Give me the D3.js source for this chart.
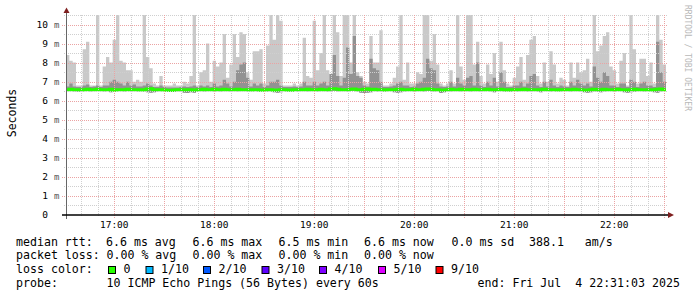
<!DOCTYPE html>
<html>
<head>
<meta charset="utf-8">
<script src="https://cdn.jsdelivr.net/npm/d3@7"></script>
<style>
body { margin: 0; background: #fff; }
svg { display: block; font-family: "DejaVu Sans Mono", monospace; }
</style>
</head>
<body>
<div id="chart"></div>
<script>
// 180 two-minute samples, 16:31:03 .. 22:31:03, values in ms
var rttMax = [
  8.4, 8.1, 8.0, 6.8, 6.8, 8.7, 9.1, 6.8, 6.8, 11,
  6.8, 7.8, 8.3, 8.0, 9.2, 11, 8.1, 8.0, 7.6, 7.6,
  7.0, 7.1, 7.0, 11, 8.3, 7.7, 6.9, 6.8, 7.3, 6.8,
  6.8, 6.8, 6.9, 6.8, 6.8, 7.0, 6.9, 7.3, 11, 6.8,
  7.5, 7.6, 9.0, 7.0, 8.1, 7.8, 8.0, 9.5, 7.2, 7.9,
  9.5, 8.3, 9.6, 9.5, 7.5, 7.1, 8.6, 8.6, 8.7, 6.9,
  8.9, 11, 9.2, 11, 10.2, 6.8, 6.8, 6.8, 6.9, 6.8,
  6.9, 9.3, 7.3, 7.2, 10.2, 7.6, 8.5, 11, 7.6, 7.0,
  11, 9.6, 7.3, 11, 11, 8.0, 11, 7.5, 7.3, 7.0,
  6.9, 9.4, 8.0, 8.0, 9.7, 6.8, 6.8, 6.9, 7.2, 7.8,
  11, 7.1, 8.0, 6.9, 6.9, 7.5, 7.4, 11, 11, 8.1,
  9.5, 7.9, 6.9, 6.8, 6.9, 7.6, 6.9, 11, 7.8, 7.1,
  11, 11, 7.9, 9.1, 7.3, 6.9, 7.9, 7.4, 8.5, 7.0,
  9.1, 7.6, 6.9, 6.8, 7.2, 7.8, 8.3, 7.1, 8.4, 9.2,
  9.4, 7.3, 6.9, 8.0, 7.0, 8.6, 7.9, 6.9, 7.2, 7.1,
  6.8, 8.0, 7.2, 8.0, 7.5, 7.6, 8.2, 7.0, 11, 8.6,
  8.9, 9.4, 9.6, 7.8, 7.6, 6.9, 8.1, 8.5, 6.8, 11,
  8.7, 6.9, 8.2, 8.2, 7.3, 8.0, 6.9, 11, 9.2, 7.9
];
var rttHigh = [
  6.75, 6.9, 6.75, 6.72, 6.72, 6.8, 6.85, 6.72, 6.75, 6.8,
  6.72, 6.8, 6.8, 7.0, 7.1, 7.0, 6.9, 6.8, 7.0, 6.8,
  6.85, 6.75, 6.75, 6.8, 6.9, 6.8, 6.72, 6.72, 6.8, 6.72,
  6.7, 6.7, 6.7, 6.7, 6.72, 6.75, 6.72, 6.75, 6.8, 6.72,
  6.8, 6.75, 6.8, 6.72, 6.9, 6.75, 6.8, 7.1, 6.9, 6.75,
  7.0, 7.6, 7.9, 8.0, 7.2, 6.75, 6.9, 6.8, 6.9, 6.72,
  6.8, 7.0, 7.0, 7.1, 6.8, 6.72, 6.72, 6.72, 6.75, 6.72,
  6.75, 7.0, 6.8, 6.8, 7.0, 6.8, 6.9, 7.0, 6.8, 7.4,
  8.4, 7.3, 6.8, 7.2, 8.8, 7.4, 9.4, 7.3, 7.2, 6.8,
  6.75, 8.2, 7.7, 7.6, 7.0, 6.72, 6.72, 6.75, 6.8, 6.9,
  7.0, 6.8, 6.8, 6.72, 6.75, 6.9, 7.0, 7.2, 8.2, 7.7,
  7.6, 6.9, 6.75, 6.72, 6.75, 7.0, 6.75, 7.2, 6.9, 6.8,
  7.2, 7.3, 6.8, 8.0, 6.8, 6.72, 7.0, 6.8, 7.2, 6.75,
  7.5, 7.0, 6.72, 6.72, 6.8, 6.8, 7.0, 6.75, 6.9, 7.3,
  7.4, 6.8, 6.72, 7.0, 6.75, 7.1, 6.8, 6.72, 6.8, 6.75,
  6.72, 7.0, 6.8, 7.1, 6.9, 6.8, 6.9, 6.75, 7.8, 7.2,
  7.0, 7.5, 7.3, 6.8, 6.8, 6.72, 6.9, 6.9, 6.72, 7.1,
  7.0, 6.72, 6.9, 7.0, 6.8, 6.8, 6.72, 9.1, 7.5, 7.0
];
var rttMin = [
  6.52, 6.52, 6.5, 6.48, 6.5, 6.52, 6.52, 6.5, 6.52, 6.52,
  6.52, 6.5, 6.52, 6.45, 6.5, 6.52, 6.52, 6.5, 6.52, 6.52,
  6.52, 6.5, 6.52, 6.5, 6.45, 6.42, 6.45, 6.5, 6.52, 6.52,
  6.5, 6.52, 6.48, 6.52, 6.5, 6.42, 6.4, 6.45, 6.42, 6.5,
  6.52, 6.5, 6.52, 6.52, 6.5, 6.52, 6.5, 6.52, 6.52, 6.5,
  6.52, 6.5, 6.52, 6.52, 6.5, 6.52, 6.52, 6.5, 6.52, 6.52,
  6.5, 6.52, 6.45, 6.42, 6.45, 6.52, 6.5, 6.52, 6.52, 6.5,
  6.52, 6.52, 6.5, 6.52, 6.52, 6.5, 6.52, 6.52, 6.5, 6.52,
  6.52, 6.5, 6.52, 6.52, 6.5, 6.52, 6.52, 6.5, 6.42, 6.4,
  6.42, 6.45, 6.52, 6.5, 6.52, 6.5, 6.52, 6.52, 6.45, 6.42,
  6.45, 6.5, 6.52, 6.52, 6.5, 6.52, 6.52, 6.5, 6.52, 6.52,
  6.5, 6.52, 6.4, 6.45, 6.52, 6.5, 6.52, 6.52, 6.5, 6.52,
  6.52, 6.5, 6.52, 6.52, 6.5, 6.52, 6.52, 6.5, 6.45, 6.52,
  6.52, 6.5, 6.52, 6.48, 6.52, 6.5, 6.52, 6.52, 6.5, 6.52,
  6.52, 6.5, 6.45, 6.52, 6.52, 6.5, 6.52, 6.52, 6.5, 6.52,
  6.52, 6.5, 6.52, 6.52, 6.5, 6.45, 6.42, 6.45, 6.5, 6.48,
  6.45, 6.5, 6.52, 6.52, 6.5, 6.52, 6.52, 6.45, 6.42, 6.45,
  6.48, 6.52, 6.52, 6.5, 6.52, 6.52, 6.45, 6.42, 6.5, 6.52
];
var rttMedian = [
  6.58, 6.6, 6.58, 6.57, 6.56, 6.58, 6.6, 6.58, 6.57, 6.6,
  6.58, 6.57, 6.58, 6.6, 6.55, 6.58, 6.57, 6.58, 6.6, 6.57,
  6.58, 6.57, 6.56, 6.58, 6.62, 6.63, 6.58, 6.57, 6.58, 6.56,
  6.55, 6.53, 6.56, 6.58, 6.57, 6.56, 6.58, 6.57, 6.55, 6.58,
  6.57, 6.6, 6.58, 6.57, 6.6, 6.58, 6.57, 6.6, 6.58, 6.57,
  6.58, 6.6, 6.58, 6.57, 6.58, 6.56, 6.58, 6.57, 6.55, 6.56,
  6.58, 6.57, 6.55, 6.56, 6.58, 6.57, 6.56, 6.55, 6.57, 6.58,
  6.57, 6.58, 6.6, 6.58, 6.57, 6.58, 6.6, 6.58, 6.57, 6.62,
  6.63, 6.6, 6.58, 6.57, 6.58, 6.6, 6.62, 6.58, 6.57, 6.6,
  6.62, 6.58, 6.6, 6.58, 6.57, 6.56, 6.58, 6.57, 6.58, 6.6,
  6.6, 6.58, 6.57, 6.58, 6.6, 6.58, 6.57, 6.6, 6.62, 6.6,
  6.58, 6.57, 6.55, 6.56, 6.58, 6.6, 6.58, 6.57, 6.6, 6.58,
  6.57, 6.58, 6.6, 6.58, 6.57, 6.58, 6.6, 6.58, 6.57, 6.58,
  6.6, 6.58, 6.56, 6.57, 6.58, 6.57, 6.58, 6.6, 6.58, 6.57,
  6.58, 6.57, 6.58, 6.6, 6.58, 6.57, 6.58, 6.56, 6.57, 6.58,
  6.57, 6.58, 6.6, 6.58, 6.57, 6.55, 6.56, 6.58, 6.6, 6.58,
  6.58, 6.6, 6.58, 6.57, 6.58, 6.6, 6.58, 6.57, 6.55, 6.58,
  6.6, 6.57, 6.58, 6.57, 6.58, 6.56, 6.58, 6.6, 6.62, 6.58
];
var yTicks = [0, 1, 2, 3, 4, 5, 6, 7, 8, 9, 10];
var lossLabels = ["0", "1/10", "2/10", "3/10", "4/10", "5/10", "9/10"];
var lossColors = ["#26ff00", "#00b8ff", "#0059ff", "#5e00ff", "#7e00ff", "#dd00ff", "#ff0000"];

var start = new Date(2025, 6, 4, 16, 31, 3);
var end = new Date(2025, 6, 4, 22, 31, 3);

var svg = d3.select("#chart").append("svg")
  .attr("width", 697).attr("height", 297);
svg.append("rect").attr("width", 697).attr("height", 297).attr("fill", "#fff");

var x = d3.scaleTime().domain([start, end]).range([66, 666]);
var y = d3.scaleLinear().domain([0, 10.5]).range([215, 15]);

var rows = rttMax.map(function(v, i) {
  return { t: d3.timeMinute.offset(start, 2 * i), max: v, high: rttHigh[i], min: rttMin[i], med: rttMedian[i] };
});
rows.push(Object.assign({}, rows[rows.length - 1], { t: end }));

svg.append("clipPath").attr("id", "plot")
  .append("rect").attr("x", 66).attr("y", 15).attr("width", 600).attr("height", 200);

var g = svg.append("g").attr("clip-path", "url(#plot)");

var smokeOuter = d3.area().curve(d3.curveStepAfter)
  .x(function(d) { return x(d.t); })
  .y0(function(d) { return y(d.min); })
  .y1(function(d) { return y(d.max); });
var smokeInner = d3.area().curve(d3.curveStepAfter)
  .x(function(d) { return x(d.t); })
  .y0(function(d) { return y(d.min); })
  .y1(function(d) { return y(d.high); });
var medianLine = d3.line().curve(d3.curveStepAfter)
  .x(function(d) { return x(d.t); })
  .y(function(d) { return y(d.med); });

g.append("path").datum(rows).attr("d", smokeOuter).attr("fill", "#c9c9c9");
g.append("path").datum(rows).attr("d", smokeInner).attr("fill", "#929292");
g.append("path").datum(rows).attr("d", medianLine)
  .attr("fill", "none").attr("stroke", lossColors[0]).attr("stroke-width", 3);

// grid
var grid = svg.append("g").attr("shape-rendering", "crispEdges");
var minorY = d3.range(0.5, 10.6, 1);
grid.selectAll(".hmin").data(minorY).enter().append("line")
  .attr("x1", 64).attr("x2", 668)
  .attr("y1", function(d) { return Math.round(y(d)) + 0.5; })
  .attr("y2", function(d) { return Math.round(y(d)) + 0.5; })
  .attr("stroke", "#cfcfcf").attr("stroke-dasharray", "1,1");
grid.selectAll(".hmaj").data(yTicks.slice(1)).enter().append("line")
  .attr("x1", 62).attr("x2", 668)
  .attr("y1", function(d) { return Math.round(y(d)) + 0.5; })
  .attr("y2", function(d) { return Math.round(y(d)) + 0.5; })
  .attr("stroke", "#eba3a3").attr("stroke-dasharray", "1,1");

var minorX = d3.timeMinute.every(10).range(start, end).filter(function(t) { return t.getMinutes() % 30 !== 0; });
var majorX = d3.timeMinute.every(30).range(start, end);
grid.selectAll(".vmin").data(minorX).enter().append("line")
  .attr("x1", function(d) { return Math.round(x(d)) + 0.5; })
  .attr("x2", function(d) { return Math.round(x(d)) + 0.5; })
  .attr("y1", 15).attr("y2", 217)
  .attr("stroke", "#cfcfcf").attr("stroke-dasharray", "1,1");
grid.selectAll(".vmaj").data(majorX).enter().append("line")
  .attr("x1", function(d) { return Math.round(x(d)) + 0.5; })
  .attr("x2", function(d) { return Math.round(x(d)) + 0.5; })
  .attr("y1", 15).attr("y2", 219)
  .attr("stroke", "#eba3a3").attr("stroke-dasharray", "1,1");

// axes
svg.append("line").attr("x1", 66.5).attr("x2", 66.5).attr("y1", 12).attr("y2", 219)
  .attr("stroke", "#666").attr("stroke-width", 1);
svg.append("line").attr("x1", 62).attr("x2", 669).attr("y1", 215).attr("y2", 215)
  .attr("stroke", "#000").attr("stroke-width", 1.5);
svg.append("path").attr("d", "M63.5,13L66.5,7.5L69.5,13Z").attr("fill", "#7f1f1f");
svg.append("path").attr("d", "M668,212L674,215L668,218Z").attr("fill", "#7f1f1f");

// y labels
var yl = svg.append("g").attr("font-size", "9.5px");
yl.selectAll(".yn").data(yTicks).enter().append("text")
  .attr("x", 48).attr("y", function(d) { return y(d) + 3.4; })
  .attr("text-anchor", "end").attr("fill", "#000")
  .text(function(d) { return d; });
yl.selectAll(".ym").data(yTicks.slice(1)).enter().append("text")
  .attr("x", 54).attr("y", function(d) { return y(d) + 3.4; })
  .attr("fill", "#555").attr("font-size", "9px")
  .text("m");

// x labels
svg.append("g").attr("font-size", "9.5px").selectAll("text")
  .data(d3.timeHour.range(start, end)).enter().append("text")
  .attr("x", function(d) { return x(d); }).attr("y", 228.3)
  .attr("text-anchor", "middle").attr("fill", "#000")
  .text(d3.timeFormat("%H:%M"));

svg.append("text").attr("transform", "translate(16,113) rotate(-90)")
  .attr("text-anchor", "middle").attr("font-size", "11.5px").attr("fill", "#000")
  .text("Seconds");

svg.append("text").attr("transform", "translate(685,5) rotate(90)")
  .attr("font-size", "8px").attr("fill", "#b8b8b8")
  .text("RRDTOOL / TOBI OETIKER");

// legend (spaces kept as no-break so runs of spaces survive)
function keep(s) { return s.replace(/ /g, "\u00a0"); }
var legend = svg.append("g").attr("font-size", "11.6px").attr("fill", "#000");
var legendRows = [
  [245.6, [["median rtt:", 16], ["6.6 ms avg", 106], ["6.6 ms max", 192.5], ["6.5 ms min", 278.5], ["6.6 ms now", 364], ["0.0 ms sd", 451.5], ["388.1   am/s", 529]]],
  [259.2, [["packet loss:", 16], ["0.00 % avg", 106.5], ["0.00 % max", 192.5], ["0.00 % min", 278.5], ["0.00 % now", 364]]],
  [273, [["loss color:", 16]]],
  [286.7, [["probe:", 16], ["10 ICMP Echo Pings (56 Bytes) every 60s", 106.5], ["end: Fri Jul  4 22:31:03 2025", 477.5]]]
];
legendRows.forEach(function(r) {
  r[1].forEach(function(c) {
    legend.append("text").attr("x", c[1]).attr("y", r[0]).text(keep(c[0]));
  });
});
var boxX = [108.5, 146, 203.5, 262, 319.5, 378.5, 436];
var lab = legend.selectAll(".loss").data(lossLabels).enter().append("g");
lab.append("rect")
  .attr("x", function(d, i) { return boxX[i]; }).attr("y", 266.5)
  .attr("width", 7).attr("height", 7)
  .attr("fill", function(d, i) { return lossColors[i]; })
  .attr("stroke", "#000").attr("stroke-width", 1);
lab.append("text")
  .attr("x", function(d, i) { return boxX[i] + 15; }).attr("y", 273)
  .text(function(d) { return d; });
</script>
</body>
</html>
